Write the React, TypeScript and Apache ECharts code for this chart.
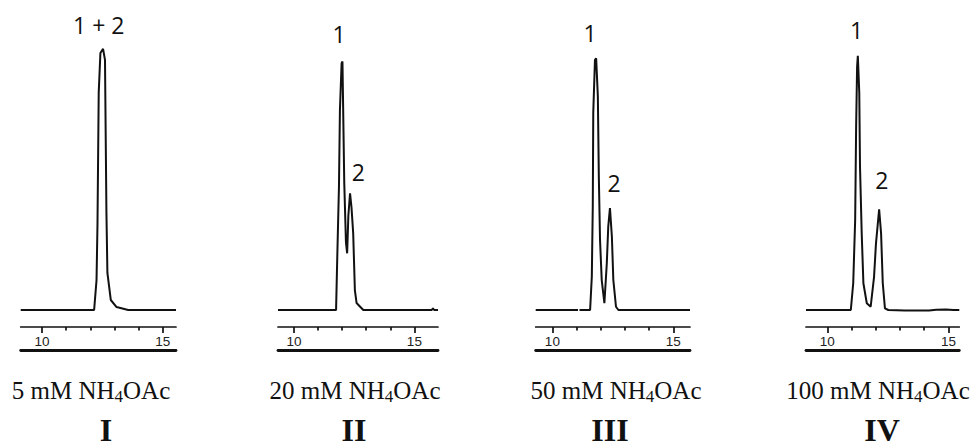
import React, { useEffect, useRef } from "react";
import * as echarts from "echarts";

// Retention time (min) vs detector signal (relative units, baseline = 0)
const traceI = [
  [9.12, 0], [12.16, 0], [12.26, 11.1], [12.3, 32.2], [12.35, 80.4], [12.42, 95.2],
  [12.53, 96.7], [12.61, 92.6], [12.67, 35.9], [12.71, 13.7], [12.85, 3.7],
  [13.09, 1.1], [13.57, 0], [15.55, 0],
];
const traceII = [
  [9.34, 0], [11.75, 0], [11.8, 19.7], [11.87, 45.7], [11.91, 74.1], [11.98, 91.4],
  [12.015, 92], [12.09, 47], [12.16, 25], [12.21, 21], [12.26, 35], [12.33, 43.2],
  [12.39, 38], [12.46, 28.5], [12.53, 7.4], [12.6, 2.6], [12.88, 0], [15.72, 0],
  [15.77, 0.6], [15.82, 0], [15.98, 0],
];
const traceIII = [
  [9.31, 0], [11.06, 0], [11.08, "-"], [11.12, 0], [11.56, 0], [11.63, 12.3],
  [11.67, 38.3], [11.69, 73], [11.76, 92.6], [11.81, 93.2], [11.88, 79], [11.92, 49.4],
  [11.97, 25.9], [12.04, 11.1], [12.15, 2.5], [12.25, 17.3], [12.31, 30.9],
  [12.38, 37.7], [12.46, 27.2], [12.52, 11.1], [12.63, 1.2], [12.73, 0], [15.69, 0],
];
const traceIV = [
  [9.12, 0], [10.97, 0], [11.07, 9.9], [11.15, 33.3], [11.19, 67.9], [11.23, 90.1],
  [11.26, 94.1], [11.32, 80.3], [11.35, 53.1], [11.42, 28.5], [11.49, 9.9],
  [11.63, 2.5], [11.79, 1.2], [11.93, 12.3], [12.01, 24.7], [12.14, 37.3],
  [12.22, 28.4], [12.29, 9.9], [12.38, 0.6], [12.52, 0], [13.2, -0.2], [14.2, -0.2],
  [14.5, 0.1], [14.9, 0.15], [15.2, 0], [15.45, 0],
];

// Peak annotations: [time, signal, label]
const peaksI = [[12.35, 105.6, "1 + 2"]];
const peaksII = [[11.87, 102.2, "1"], [12.67, 51.2, "2"]];
const peaksIII = [[11.56, 102.5, "1"], [12.55, 46.9, "2"]];
const peaksIV = [[11.21, 103.7, "1"], [12.25, 48.1, "2"]];

const concentrations = ["5", "20", "50", "100"];
const romanNumerals = ["I", "II", "III", "IV"];
const axisRanges = [[9.12, 15.55], [9.34, 15.98], [9.31, 15.69], [9.12, 15.45]];
const majorTicks = [10, 15];
const minorTicks = [11, 12, 13, 14];

const traces = [traceI, traceII, traceIII, traceIV];
const peaks = [peaksI, peaksII, peaksIII, peaksIV];

// layout (pixels)
const gridLefts = [20.7, 278, 535.7, 806];
const gridWidths = [155.3, 160, 154.3, 153.3];
const captionX = [91, 355, 616, 878];
const numeralX = [106, 354, 610, 882];

export default function App() {
  const ref = useRef<HTMLDivElement>(null);

  useEffect(() => {
    if (!ref.current) return;
    const chart = echarts.init(ref.current, undefined, { renderer: "svg" });
    const ink = "#111";

    const grid: any[] = [];
    const xAxis: any[] = [];
    const yAxis: any[] = [];
    const series: any[] = [];
    const graphic: any[] = [];

    for (let i = 0; i < 4; i++) {
      grid.push({ left: gridLefts[i], width: gridWidths[i], top: 0, height: 327 });
      const [mn, mx] = axisRanges[i];
      // main axis: line, major ticks, labels
      xAxis.push({
        type: "value", gridIndex: i, min: mn, max: mx, position: "bottom",
        splitLine: { show: false },
        axisLine: { show: true, onZero: false, lineStyle: { color: ink, width: 1.7 } },
        axisTick: { show: true, customValues: majorTicks, length: 6, lineStyle: { color: ink, width: 1.7 } },
        axisLabel: {
          show: true, customValues: majorTicks, margin: 7, fontSize: 13.5,
          fontFamily: "Liberation Sans", color: "#222",
        },
      });
      // minor ticks
      xAxis.push({
        type: "value", gridIndex: i, min: mn, max: mx, position: "bottom",
        splitLine: { show: false },
        axisLine: { show: false, onZero: false },
        axisTick: { show: true, customValues: minorTicks, length: 3.5, lineStyle: { color: ink, width: 1.7 } },
        axisLabel: { show: false },
      });
      // lower thick rule
      xAxis.push({
        type: "value", gridIndex: i, min: mn, max: mx, position: "bottom", offset: 23,
        splitLine: { show: false },
        axisLine: { show: true, onZero: false, lineStyle: { color: ink, width: 2.8 } },
        axisTick: { show: false },
        axisLabel: { show: false },
      });
      yAxis.push({ type: "value", gridIndex: i, min: -6.3, max: 114.8, show: false });

      series.push({
        type: "line",
        xAxisIndex: i * 3,
        yAxisIndex: i,
        data: traces[i],
        symbol: "none",
        connectNulls: false,
        lineStyle: { color: ink, width: 2 },
        markPoint: {
          symbol: "circle",
          symbolSize: 1,
          itemStyle: { color: "rgba(0,0,0,0)" },
          label: {
            show: true, position: "inside", formatter: "{b}",
            fontFamily: "Open Sans", fontSize: 23, color: ink,
          },
          data: peaks[i].map((p) => ({ name: p[2], coord: [p[0], p[1]] })),
        },
      });

      graphic.push({
        type: "text",
        x: captionX[i],
        y: 390,
        style: {
          text: `{a|${concentrations[i]} mM NH}{s|4}{a|OAc}`,
          align: "center",
          verticalAlign: "middle",
          fill: ink,
          rich: {
            a: { fontFamily: "Liberation Serif", fontSize: 25, fill: ink },
            s: { fontFamily: "Liberation Serif", fontSize: 17, fill: ink, padding: [12, 0, 0, 0] },
          },
        },
      });
      graphic.push({
        type: "text",
        x: numeralX[i],
        y: 430,
        style: {
          text: romanNumerals[i],
          align: "center",
          verticalAlign: "middle",
          fill: ink,
          fontFamily: "Liberation Serif",
          fontWeight: "bold",
          fontSize: 32,
        },
      });
    }

    chart.setOption({
      animation: false,
      backgroundColor: "#fff",
      grid,
      xAxis,
      yAxis,
      series,
      graphic,
    });
    return () => chart.dispose();
  }, []);

  return (
    <div
      ref={ref}
      style={{ position: "fixed", left: 0, top: 0, width: 972, height: 447 }}
    />
  );
}
